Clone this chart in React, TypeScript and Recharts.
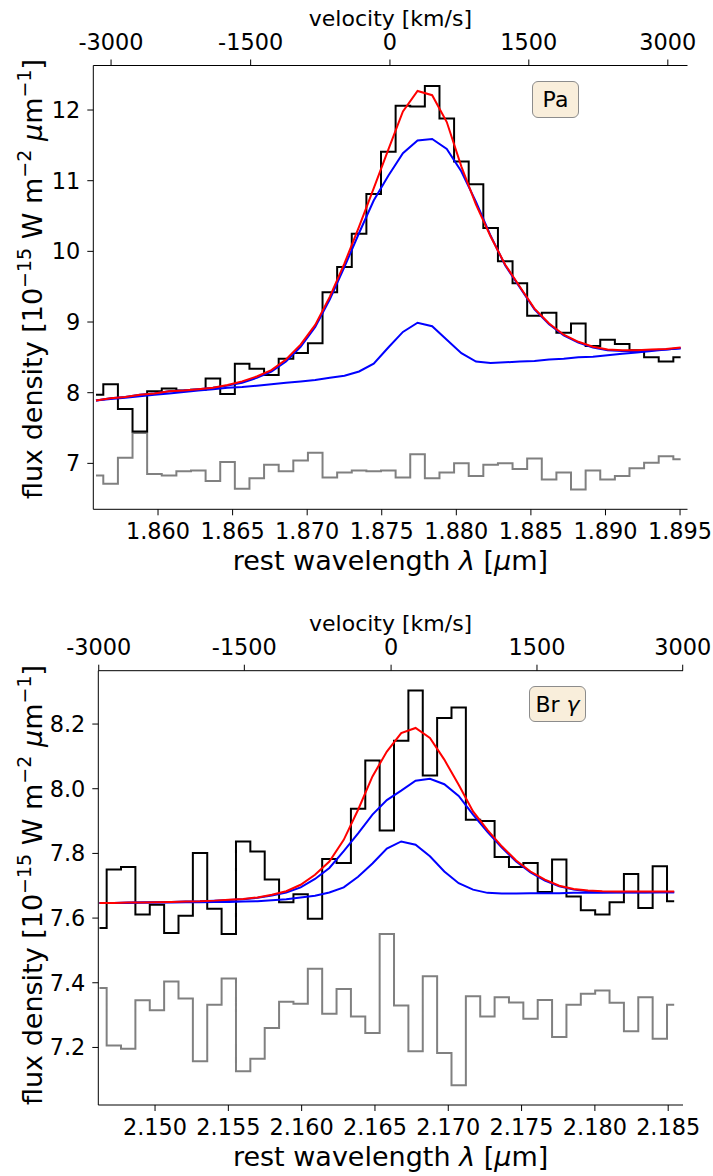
import React from "react";
import { LineChart, Line, XAxis, YAxis } from "recharts";

// Pa alpha panel
const paWave = [
  1.85584, 1.85682, 1.8578, 1.85878, 1.85976, 1.86074, 1.86172, 1.8627, 1.86368, 1.86466,
  1.86564, 1.86662, 1.8676, 1.86858, 1.86956, 1.87054, 1.87152, 1.8725, 1.87348, 1.87446,
  1.87544, 1.87642, 1.8774, 1.87838, 1.87936, 1.88034, 1.88132, 1.8823, 1.88328, 1.88426,
  1.88524, 1.88622, 1.8872, 1.88818, 1.88916, 1.89014, 1.89112, 1.8921, 1.89308, 1.89406,
  1.89504,
];
const paFlux = [
  7.97, 8.12, 7.77, 7.45, 8.02, 8.06, 8.03, 8.04, 8.2, 7.98,
  8.41, 8.34, 8.25, 8.48, 8.56, 8.7, 9.42, 9.78, 10.25, 10.81,
  11.41, 12.06, 12.05, 12.34, 11.88, 11.27, 10.95, 10.33, 9.86, 9.55,
  9.09, 9.13, 8.85, 8.98, 8.66, 8.75, 8.69, 8.6, 8.5, 8.44,
  8.5,
];
const paResid = [
  6.83, 6.71, 7.08, 7.43, 6.85, 6.83, 6.89, 6.9, 6.75, 7.02,
  6.64, 6.79, 6.98, 6.89, 7.04, 7.15, 6.8, 6.87, 6.9, 6.89,
  6.9, 6.8, 7.13, 6.79, 6.87, 7.0, 6.82, 6.98, 7.0, 6.92,
  7.07, 6.77, 6.87, 6.63, 6.9, 6.77, 6.82, 6.93, 7.01, 7.1,
  7.06,
];
const paTotal = [
  7.89, 7.92, 7.94, 7.97, 7.99, 8.02, 8.03, 8.05, 8.07, 8.11,
  8.16, 8.23, 8.32, 8.47, 8.68, 8.96, 9.36, 9.83, 10.35, 10.89,
  11.44, 11.98, 12.27, 12.21, 11.83, 11.2, 10.66, 10.21, 9.81, 9.5,
  9.19, 8.98, 8.82, 8.72, 8.65, 8.61, 8.6, 8.6, 8.61, 8.62,
  8.64,
];
const paBroad = [
  7.89, 7.92, 7.94, 7.97, 7.99, 8.02, 8.03, 8.05, 8.07, 8.1,
  8.14, 8.21, 8.3, 8.44, 8.65, 8.93, 9.32, 9.78, 10.26, 10.72,
  11.07, 11.39, 11.57, 11.59, 11.45, 11.13, 10.7, 10.22, 9.8, 9.49,
  9.18, 8.97, 8.81, 8.71, 8.64, 8.6, 8.59, 8.59, 8.6, 8.61,
  8.63,
];
const paNarrow = [
  7.89, 7.91, 7.93, 7.95, 7.97, 7.99, 8.01, 8.03, 8.05, 8.07,
  8.08, 8.1, 8.12, 8.14, 8.16, 8.18, 8.21, 8.24, 8.3, 8.41,
  8.64, 8.86, 8.99, 8.94, 8.75, 8.56, 8.44, 8.42, 8.43, 8.44,
  8.45, 8.47, 8.48, 8.5, 8.51, 8.53, 8.55, 8.57, 8.59, 8.61,
  8.63,
];

// Br gamma panel
const brWave = [
  2.14621, 2.14719, 2.14817, 2.14915, 2.15013, 2.15111, 2.15209, 2.15307, 2.15405, 2.15503,
  2.15601, 2.15699, 2.15797, 2.15895, 2.15993, 2.16091, 2.16189, 2.16287, 2.16385, 2.16483,
  2.16581, 2.16679, 2.16777, 2.16875, 2.16973, 2.17071, 2.17169, 2.17267, 2.17365, 2.17463,
  2.17561, 2.17659, 2.17757, 2.17855, 2.17953, 2.18051, 2.18149, 2.18247, 2.18345, 2.18443,
  2.18541,
];
const brFlux = [
  7.569, 7.75, 7.758, 7.611, 7.641, 7.554, 7.607, 7.801, 7.629, 7.551,
  7.837, 7.806, 7.719, 7.649, 7.674, 7.598, 7.783, 7.77, 7.938, 8.087,
  7.871, 8.148, 8.304, 8.041, 8.219, 8.251, 7.904, 7.9, 7.789, 7.758,
  7.77, 7.681, 7.781, 7.667, 7.624, 7.611, 7.649, 7.736, 7.631, 7.76,
  7.652,
];
const brResid = [
  7.384, 7.206, 7.196, 7.346, 7.315, 7.404, 7.351, 7.157, 7.332, 7.413,
  7.126, 7.165, 7.26, 7.341, 7.335, 7.443, 7.304, 7.381, 7.296, 7.245,
  7.551, 7.33, 7.188, 7.42, 7.183, 7.083, 7.358, 7.296, 7.355, 7.339,
  7.289, 7.347, 7.232, 7.332, 7.366, 7.376, 7.338, 7.25, 7.355, 7.227,
  7.332,
];
const brTotal = [
  7.647, 7.647, 7.648, 7.648, 7.649, 7.65, 7.651, 7.652, 7.654, 7.657,
  7.659, 7.664, 7.672, 7.683, 7.703, 7.734, 7.775, 7.842, 7.935, 8.038,
  8.115, 8.172, 8.188, 8.157, 8.09, 8.012, 7.93, 7.873, 7.822, 7.778,
  7.744, 7.719, 7.7, 7.69, 7.685, 7.683, 7.682, 7.682, 7.682, 7.682,
  7.682,
];
const brBroad = [
  7.647, 7.647, 7.648, 7.648, 7.649, 7.65, 7.651, 7.652, 7.654, 7.656,
  7.658, 7.663, 7.67, 7.679, 7.695, 7.721, 7.755, 7.807, 7.862, 7.92,
  7.965, 7.994, 8.025, 8.031, 8.014, 7.978, 7.92, 7.867, 7.818, 7.775,
  7.741, 7.716, 7.698, 7.688, 7.683, 7.681, 7.68, 7.68, 7.68, 7.68,
  7.68,
];
const brNarrow = [
  7.647, 7.647, 7.647, 7.648, 7.648, 7.648, 7.649, 7.649, 7.65, 7.65,
  7.651, 7.652, 7.655, 7.658, 7.664, 7.669, 7.679, 7.695, 7.728, 7.769,
  7.815, 7.837, 7.827, 7.791, 7.744, 7.708, 7.688, 7.678, 7.676, 7.676,
  7.677, 7.677, 7.677, 7.678, 7.678, 7.678, 7.679, 7.679, 7.679, 7.68,
  7.68,
];

const paWaveTicks = [1.86, 1.865, 1.87, 1.875, 1.88, 1.885, 1.89, 1.895];
const brWaveTicks = [2.15, 2.155, 2.16, 2.165, 2.17, 2.175, 2.18, 2.185];
// velocity tick labels and the wavelengths where they sit on the top axis
const velLabels = ["-3000", "-1500", "0", "1500", "3000"];
const paVelTickWave = [1.85685, 1.86621, 1.87555, 1.88486, 1.89418];
const brVelTickWave = [2.14616, 2.15609, 2.1661, 2.17605, 2.18599];
const paFluxTicks = [7, 8, 9, 10, 11, 12];
const brFluxTicks = [7.2, 7.4, 7.6, 7.8, 8.0, 8.2];

const FONT = "DejaVu Sans, Verdana, sans-serif";
const tickStyle = { fill: "#000", fontSize: 22.4, fontFamily: FONT };

const makeRows = (
  wave: number[],
  flux: number[],
  resid: number[],
  total: number[],
  broad: number[],
  narrow: number[]
) =>
  wave.map((w, i) => ({
    w,
    flux: flux[i],
    resid: resid[i],
    total: total[i],
    broad: broad[i],
    narrow: narrow[i],
  }));

const paRows = makeRows(paWave, paFlux, paResid, paTotal, paBroad, paNarrow);
const brRows = makeRows(brWave, brFlux, brResid, brTotal, brBroad, brNarrow);

const BottomLabel = ({ lx, ly }: { lx: number; ly: number }) => (
  <text x={lx} y={ly} textAnchor="middle" fontSize={27} fontFamily={FONT} fill="#000">
    rest wavelength <tspan fontStyle="italic">λ</tspan> [<tspan fontStyle="italic">µ</tspan>m]
  </text>
);

const TopLabel = ({ lx, ly }: { lx: number; ly: number }) => (
  <text x={lx} y={ly} textAnchor="middle" fontSize={22} fontFamily={FONT} fill="#000">
    velocity [km/s]
  </text>
);

const FluxLabel = ({ lx, ly }: { lx: number; ly: number }) => (
  <text
    x={lx}
    y={ly}
    transform={`rotate(-90, ${lx}, ${ly})`}
    textAnchor="middle"
    fontSize={27}
    fontFamily={FONT}
    fill="#000"
  >
    flux density [10
    <tspan dy={-11} fontSize={19}>−15</tspan>
    <tspan dy={11}> W m</tspan>
    <tspan dy={-11} fontSize={19}>−2</tspan>
    <tspan dy={11}> </tspan>
    <tspan fontStyle="italic">µ</tspan>
    <tspan>m</tspan>
    <tspan dy={-11} fontSize={19}>−1</tspan>
    <tspan dy={11}>]</tspan>
  </text>
);

interface PanelProps {
  rows: ReturnType<typeof makeRows>;
  height: number;
  margin: { top: number; left: number; right: number; bottom: number };
  xDomain: [number, number];
  xTicks: number[];
  velTickWave: number[];
  yDomain: [number, number];
  yTicks: number[];
  yDigits: number;
  plotTop: number;
  plotBottom: number;
  centerX: number;
  yLabelY: number;
  box: { left: number; top: number; width: number; height: number };
  boxText: React.ReactNode;
}

const Panel: React.FC<PanelProps> = (p) => (
  <div style={{ position: "relative", width: 713, height: p.height }}>
    <LineChart width={713} height={p.height} data={p.rows} margin={p.margin}>
      <XAxis
        xAxisId="b"
        dataKey="w"
        type="number"
        domain={p.xDomain}
        ticks={p.xTicks}
        allowDataOverflow
        tickFormatter={(v: number) => v.toFixed(3)}
        tick={tickStyle}
        stroke="#000"
        tickSize={6}
        tickMargin={8}
        height={70}
        label={<BottomLabel lx={p.centerX} ly={p.plotBottom + 61} />}
      />
      <XAxis
        xAxisId="t"
        dataKey="w"
        orientation="top"
        type="number"
        domain={p.xDomain}
        ticks={p.velTickWave}
        allowDataOverflow
        tickFormatter={(_v: number, i: number) => velLabels[i]}
        tick={tickStyle}
        stroke="#000"
        tickSize={6}
        tickMargin={10}
        height={50}
        label={<TopLabel lx={p.centerX} ly={p.plotTop - 39.5} />}
      />
      <YAxis
        yAxisId="l"
        type="number"
        domain={p.yDomain}
        ticks={p.yTicks}
        allowDataOverflow
        tickFormatter={(v: number) => v.toFixed(p.yDigits)}
        tick={tickStyle}
        stroke="#000"
        tickSize={6}
        tickMargin={7}
        width={80}
        label={<FluxLabel lx={42} ly={p.yLabelY} />}
      />
      <YAxis
        yAxisId="r"
        orientation="right"
        type="number"
        domain={p.yDomain}
        allowDataOverflow
        tick={false}
        tickLine={false}
        stroke="#000"
        width={0}
      />
      <Line xAxisId="b" yAxisId="l" dataKey="resid" type="step" stroke="#808080" strokeWidth={2} dot={false} isAnimationActive={false} />
      <Line xAxisId="b" yAxisId="l" dataKey="flux" type="step" stroke="#000000" strokeWidth={2} dot={false} isAnimationActive={false} />
      <Line xAxisId="b" yAxisId="l" dataKey="broad" type="linear" stroke="#0000ff" strokeWidth={2} dot={false} isAnimationActive={false} />
      <Line xAxisId="b" yAxisId="l" dataKey="narrow" type="linear" stroke="#0000ff" strokeWidth={2} dot={false} isAnimationActive={false} />
      <Line xAxisId="t" yAxisId="r" dataKey="total" type="linear" stroke="#ff0000" strokeWidth={2} dot={false} isAnimationActive={false} />
    </LineChart>
    <div
      style={{
        position: "absolute",
        left: p.box.left,
        top: p.box.top,
        width: p.box.width,
        height: p.box.height,
        boxSizing: "border-box",
        background: "#f9eedb",
        border: "1.5px solid #8c8c8c",
        borderRadius: 6,
        fontFamily: FONT,
        fontSize: 22,
        color: "#000",
        display: "flex",
        alignItems: "center",
        justifyContent: "center",
      }}
    >
      {p.boxText}
    </div>
  </div>
);

export default function App() {
  return (
    <div style={{ position: "absolute", left: 0, top: 0, width: 713, height: 1176, background: "#fff" }}>
      <Panel
        rows={paRows}
        height={590}
        margin={{ top: 15.5, left: 13.3, right: 25.5, bottom: 10.7 }}
        xDomain={[1.85566, 1.8955]}
        xTicks={paWaveTicks}
        velTickWave={paVelTickWave}
        yDomain={[6.35, 12.63]}
        yTicks={paFluxTicks}
        yDigits={0}
        plotTop={65.5}
        plotBottom={509.3}
        centerX={390.4}
        yLabelY={279}
        box={{ left: 532, top: 81, width: 47, height: 37 }}
        boxText={<span>Pa</span>}
      />
      <Panel
        rows={brRows}
        height={586}
        margin={{ top: 30.7, left: 18.3, right: 30, bottom: 1 }}
        xDomain={[2.14613, 2.18601]}
        xTicks={brWaveTicks}
        velTickWave={brVelTickWave}
        yDomain={[7.022, 8.365]}
        yTicks={brFluxTicks}
        yDigits={1}
        plotTop={80.7}
        plotBottom={515}
        centerX={390.6}
        yLabelY={295}
        box={{ left: 529, top: 96, width: 57, height: 36 }}
        boxText={
          <span>
            Br <i>γ</i>
          </span>
        }
      />
    </div>
  );
}
